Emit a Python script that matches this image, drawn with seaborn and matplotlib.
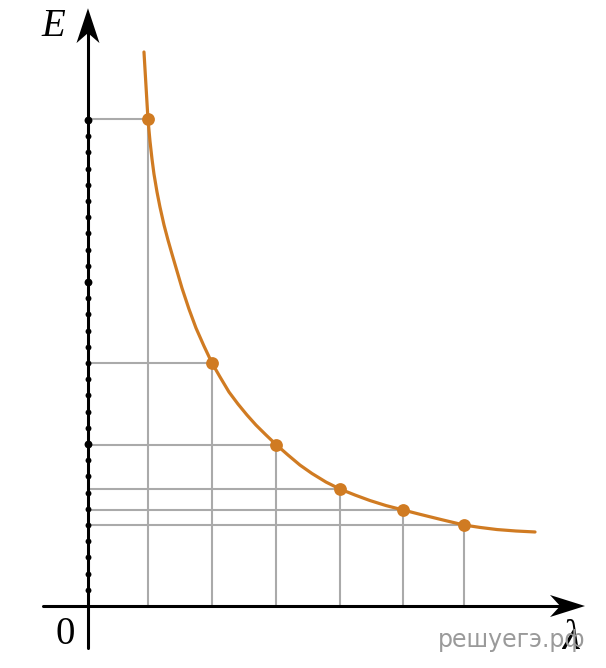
import numpy as np
import pandas as pd
import seaborn as sns
import matplotlib
matplotlib.use("Agg")
from matplotlib import pyplot as plt

# marked points (lambda, E)
lam_pts = [0.949, 1.962, 2.975, 3.987, 4.984, 5.949]
e_pts = [30.06, 15.00, 9.97, 7.22, 5.93, 5.00]

# the drawn curve, read point by point along its length
lam_curve = [0.886, 0.918, 0.949, 0.981, 1.013, 1.044, 1.092, 1.139, 1.203,
             1.266, 1.329, 1.408, 1.487, 1.598, 1.709, 1.835, 1.962, 2.089,
             2.231, 2.373, 2.516, 2.658, 2.816, 2.975, 3.165, 3.354, 3.544,
             3.766, 3.987, 4.225, 4.462, 4.715, 4.984, 5.253, 5.585, 5.949,
             6.203, 6.472, 6.772, 7.073]
e_curve = [34.20, 32.10, 30.06, 28.70, 27.59, 26.67, 25.56, 24.63, 23.52,
           22.59, 21.73, 20.68, 19.63, 18.33, 17.16, 16.05, 15.00, 14.14,
           13.21, 12.47, 11.79, 11.17, 10.56, 9.97, 9.32, 8.70, 8.18,
           7.65, 7.22, 6.85, 6.51, 6.20, 5.93, 5.66, 5.34, 5.00,
           4.85, 4.72, 4.63, 4.57]

# tick dots on the E axis
e_ticks = list(range(1, 31))
e_big = [10, 20, 30]

orange = "#d07b22"
grey = "#aaaaaa"

sns.set_style("white")
fig = plt.figure(figsize=(6.06, 6.68), dpi=100)
ax = fig.add_axes([0, 0, 1, 1])

# helper lines from axes to points
for lx, ey in zip(lam_pts, e_pts):
    ax.plot([lx, lx], [0, ey], color=grey, lw=1.5, zorder=1)
    ax.plot([0, lx], [ey, ey], color=grey, lw=1.5, zorder=1)

# axes with stealth arrow heads
ax.plot([-0.712, 7.5], [0, 0], color="black", lw=2.2, zorder=3)
ax.plot([0, 0], [-2.59, 35.5], color="black", lw=2.2, zorder=3)
ax.fill([7.864, 7.31, 7.47, 7.31], [0, 0.68, 0, -0.68], color="black", lw=0, zorder=3)
ax.fill([0, 0.182, 0, -0.182], [36.9, 34.75, 35.37, 34.75], color="black", lw=0, zorder=3)

ticks = pd.DataFrame({"lam": 0.0, "E": e_ticks})
ticks["big"] = ticks["E"].isin(e_big)
ax.scatter(ticks.loc[~ticks.big, "lam"], ticks.loc[~ticks.big, "E"],
           s=18, color="black", zorder=4, linewidths=0)
ax.scatter(ticks.loc[ticks.big, "lam"], ticks.loc[ticks.big, "E"],
           s=32, color="black", zorder=4, linewidths=0)

curve = pd.DataFrame({"lam": lam_curve, "E": e_curve})
sns.lineplot(data=curve, x="lam", y="E", sort=False, color=orange, lw=2.3,
             ax=ax, zorder=5)
pts = pd.DataFrame({"lam": lam_pts, "E": e_pts})
sns.scatterplot(data=pts, x="lam", y="E", color=orange, s=85, linewidth=0,
                ax=ax, zorder=6)
ax.set_xlim(-1.392, 8.196)
ax.set_ylim(-3.827, 37.41)
ax.axis("off")

ax.text(-0.55, 35.75, "E", fontsize=28, family="Liberation Serif",
        style="italic", ha="center", va="center", color="black")
ax.text(-0.36, -1.75, "0", fontsize=28, family="Liberation Serif",
        ha="center", va="center", color="black")
fig.text(0.8435, 0.042, "решуегэ.рф", fontsize=17, color="#9a9a9a",
         ha="center", va="center", family="DejaVu Sans")
ax.text(7.64, -2.05, "λ", fontsize=30, family="Liberation Serif",
        style="italic", ha="center", va="center", color="black", zorder=7)

fig.savefig("out.png", dpi=100)
